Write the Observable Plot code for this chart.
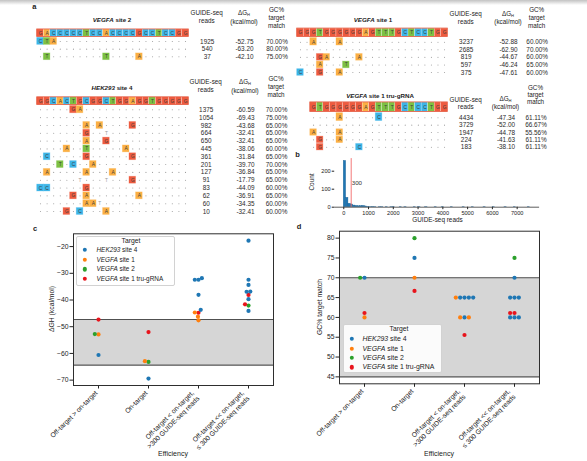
<!DOCTYPE html>
<html>
<head>
<meta charset="utf-8">
<script src="https://cdn.jsdelivr.net/npm/d3@7"></script>
<script src="https://cdn.jsdelivr.net/npm/@observablehq/plot@0.6"></script>
<style>
  html, body { margin: 0; padding: 0; background: #fff; }
  #figure { position: relative; width: 587px; height: 461px; overflow: hidden; background: #fff;
    font-family: "Liberation Sans", Arial, Helvetica, sans-serif; color: #222; }
  #figure svg { position: absolute; left: 0; top: 0; overflow: visible; }
  .txt { position: absolute; white-space: nowrap; line-height: 1; }
  .txt sub { font-size: 0.65em; vertical-align: baseline; position: relative; top: 0.25em; }
  .legend { position: absolute; background: rgba(255,255,255,0.9); border: 0.8px solid #d2d2d2;
    border-radius: 2px; box-sizing: border-box; }
  .swatch { position: absolute; width: 4.4px; height: 4.4px; border-radius: 50%; transform: translate(-50%, -50%); }
  .shade { position: absolute; left: 0; top: 0; width: 587px; height: 5px;
    background: linear-gradient(#c2c2c2, rgba(255,255,255,0)); }
</style>
</head>
<body>
<div id="figure"></div>
<script>
const FONT = '"Liberation Sans", Arial, Helvetica, sans-serif';
const W = 587, H = 461;

// Nucleotide fills for the alignment grids
const NT_LETTERS = ["G", "C", "T", "A"];
const NT_FILLS = ["#ee5b3f", "#3cb5e8", "#7dc143", "#fbb044"];

// Targets in legend order and their dot colours
const TARGET_NAMES = ["HEK293 site 4", "VEGFA site 1", "VEGFA site 2", "VEGFA site 1 tru-gRNA"];
const TARGET_LABELS = ["<i>HEK293</i> site 4", "<i>VEGFA</i> site 1", "<i>VEGFA</i> site 2", "<i>VEGFA</i> site 1 tru-gRNA"];
const TARGET_COLORS = ["#1f77b4", "#ff7f0e", "#2ca02c", "#e8141c"];

// Each GUIDE-seq site is listed by its mismatches: "<position><base>";
// a lowercase base is printed without a coloured box.
const hek4Seq = "GGCACTGCGGCTGGAGGTGGGGG";
const hek4Sites = ["5G 6A", "", "7A 9A 14G", "7G 10t", "7A 10G", "4A 7T 13A", "1C 7G 14G",
  "3T 5C 8A", "1A 7A 11A", "6t 10t 14G", "0C 1C 7G", "5G 7A 15A", "7A 8A 9t", "4G 6C 10A"];
const hek4Reads = [1375, 1054, 982, 664, 650, 445, 361, 201, 127, 91, 83, 62, 60, 10];
const hek4DeltaG = [-60.59, -69.43, -43.68, -32.41, -32.41, -38.06, -31.84, -39.70, -36.84, -17.79, -44.09, -36.91, -34.35, -32.41];
const hek4GC = [70.00, 75.00, 65.00, 65.00, 65.00, 60.00, 65.00, 70.00, 65.00, 65.00, 60.00, 65.00, 60.00, 60.00];

const vegfa1Seq = "GGGTGGGGGGAGTTTGCTCCTGG";
const vegfa1Sites = ["2A 6A", "", "3G 4A 9A", "3A 7T", "0C 3G 6A"];
const vegfa1Reads = [3237, 2685, 819, 597, 375];
const vegfa1DeltaG = [-52.88, -62.90, -44.67, -46.24, -47.61];
const vegfa1GC = [60.00, 70.00, 60.00, 65.00, 60.00];

const vegfa2Seq = "GACCCCCTCCACCCCGCCTCCGG";
const vegfa2Sites = ["0C 1T 2A", "", "1T 10T 15A"];
const vegfa2Reads = [1925, 540, 37];
const vegfa2DeltaG = [-52.75, -63.20, -42.10];
const vegfa2GC = [70.00, 80.00, 75.00];

const truSeq = "GTGGGGGGAGTTTGCTCCTGG";
const truSites = ["4A 10C", "", "0A 4A", "1G 4A", "1G 7C"];
const truReads = [4434, 3729, 1947, 224, 183];
const truDeltaG = [-47.34, -52.00, -44.78, -41.63, -38.10];
const truGC = [61.11, 66.67, 55.56, 61.11, 61.11];

// Histogram of GUIDE-seq read counts (bins of 94 reads starting at 0)
const HIST_BIN = 94;
const HIST_COUNTS = [257, 52, 19, 15, 9, 7, 5, 6, 7, 4, 2, 1, 2, 1, 0, 1, 1, 0, 1, 0, 1, 1, 0, 0, 1, 0, 1, 0, 0, 0,
  1, 0, 1, 0, 0, 1, 0, 0, 0, 1, 0, 0, 1, 0, 0, 0, 1, 0, 0, 0, 0, 1, 0, 0, 0, 1, 0, 0, 0, 0,
  1, 0, 0, 0, 1, 0, 0, 0, 0, 1, 0, 0, 0, 1, 0, 0, 0, 0, 0, 1];
const READ_CUTOFF = 300;

const EFFICIENCY = ["Off-target > on-target", "On-target",
  "Off-target < on-target,\n>300 GUIDE-seq reads", "Off-target << on-target,\n\u2264 300 GUIDE-seq reads"];
const DG_BAND = [-64.4, -47.3];
const GC_BAND = [45, 70];

const targets = [
  {name: "HEK293 site 4", seq: hek4Seq, sites: hek4Sites, reads: hek4Reads, dg: hek4DeltaG, gc: hek4GC},
  {name: "VEGFA site 1", seq: vegfa1Seq, sites: vegfa1Sites, reads: vegfa1Reads, dg: vegfa1DeltaG, gc: vegfa1GC},
  {name: "VEGFA site 2", seq: vegfa2Seq, sites: vegfa2Sites, reads: vegfa2Reads, dg: vegfa2DeltaG, gc: vegfa2GC},
  {name: "VEGFA site 1 tru-gRNA", seq: truSeq, sites: truSites, reads: truReads, dg: truDeltaG, gc: truGC},
];

// Page layout of the four alignment tables
const TABLE_LAYOUT = {
  "VEGFA site 2": {title: "<i>VEGFA</i> site 2", titleXY: [112, 19.5], cellX: [36.7, 188.3],
    seqY: 32.7, rowY: [41, 56.3], cols: [206.7, 244, 276.5],
    head: {reads: [13.3, 21], dg: [13, 21.8], gc: [10, 18, 25.5]}},
  "HEK293 site 4": {title: "<i>HEK293</i> site 4", titleXY: [112, 88.3], cellX: [36.7, 188.3],
    seqY: 100.7, rowY: [109.3, 211], cols: [205.7, 245, 276],
    head: {reads: [82.3, 90], dg: [82, 90.8], gc: [79, 87, 94.5]}},
  "VEGFA site 1": {title: "<i>VEGFA</i> site 1", titleXY: [373, 20], cellX: [296.7, 447.3],
    seqY: 32.3, rowY: [41.7, 72], cols: [465.7, 508, 536.7],
    head: {reads: [14, 21.5], dg: [13.5, 22.3], gc: [10, 18, 25.5]}},
  "VEGFA site 1 tru-gRNA": {title: "<i>VEGFA</i> site 1 tru-gRNA", titleXY: [380, 95.5], cellX: [296.7, 447.3],
    seqY: 106.7, rowY: [117.3, 146.7], cols: [465.7, 505.5, 535.5],
    head: {reads: [99.5, 106.5], dg: [98.8, 107.2], gc: [88, 95, 101.5]}},
};

const fig = document.getElementById("figure");
const shade = document.createElement("div");
shade.className = "shade";
fig.appendChild(shade);

function addText(html, x, y, opts = {}) {
  const {size = 6.5, anchor = "middle", weight = 400, rotate = 0, color = "#222"} = opts;
  const el = document.createElement("div");
  el.className = "txt";
  el.innerHTML = html;
  Object.assign(el.style, {left: x + "px", top: y + "px", fontSize: size + "px", fontWeight: weight, color});
  const tx = anchor === "middle" ? "-50%" : anchor === "end" ? "-100%" : "0%";
  el.style.transform = `translate(${tx}, -50%)` + (rotate ? ` rotate(${rotate}deg)` : "");
  fig.appendChild(el);
  return el;
}

function addPlot(options) {
  const svg = Plot.plot({
    width: W, height: H,
    style: {fontFamily: FONT, fontSize: "6.8px", color: "#222", background: "none", overflow: "visible"},
    ...options
  });
  fig.appendChild(svg);
  return svg;
}

function parseSite(s) {
  return new Map(s ? s.split(" ").map(tok => [+tok.slice(0, -1), tok.slice(-1)]) : []);
}

// ---- a: alignment tables ----
for (const t of targets) {
  const lay = TABLE_LAYOUT[t.name];
  const n = t.sites.length;
  const offset = 23 - t.seq.length;
  const seqCells = Array.from(t.seq, (nt, i) => ({pos: offset + i, row: -1, nt}));
  const boxed = [], plain = [], dots = [];
  t.sites.forEach((s, row) => {
    const mm = parseSite(s);
    for (let i = 0; i < t.seq.length; i++) {
      if (!mm.has(i)) dots.push({pos: offset + i, row});
      else {
        const b = mm.get(i);
        if (b === b.toUpperCase()) boxed.push({pos: offset + i, row, nt: b});
        else plain.push({pos: offset + i, row, nt: b.toUpperCase()});
      }
    }
  });
  const yScale = {type: "linear", domain: [-1, 0, n - 1], range: [lay.seqY, lay.rowY[0], lay.rowY[1]], axis: null};

  addPlot({
    x: {type: "linear", domain: [0, 23], range: lay.cellX, axis: null},
    y: yScale,
    color: {domain: NT_LETTERS, range: NT_FILLS},
    marks: [
      Plot.rect(seqCells, {x1: "pos", x2: d => d.pos + 1, y1: d => d.row - 0.45, y2: d => d.row + 0.45,
        fill: "nt", stroke: "#fff", strokeWidth: 0.25}),
      Plot.rect([{row: -1}], {x1: () => offset, x2: () => 23, y1: d => d.row - 0.45, y2: d => d.row + 0.45,
        fill: "none", stroke: "#e4573d", strokeWidth: 0.8}),
      Plot.text(seqCells, {x: d => d.pos + 0.5, y: "row", text: "nt", fontSize: 4.8, fill: "#3d3d3d"}),
      Plot.rect(boxed, {x1: "pos", x2: d => d.pos + 1, y1: d => d.row - 0.44, y2: d => d.row + 0.44,
        fill: "nt", stroke: "nt", strokeOpacity: 0.35, strokeWidth: 0.8}),
      Plot.text(boxed, {x: d => d.pos + 0.5, y: "row", text: "nt", fontSize: 4.8, fill: "#3d3d3d"}),
      Plot.text(plain, {x: d => d.pos + 0.5, y: "row", text: "nt", fontSize: 4.8, fill: "#9a9a9a"}),
      Plot.dot(dots, {x: d => d.pos + 0.5, y: "row", r: 0.55, fill: "#9c9c9c"}),
    ]
  });

  const numbers = [];
  t.reads.forEach((r, row) => {
    numbers.push({col: 0, row, label: String(r)});
    numbers.push({col: 1, row, label: t.dg[row].toFixed(2)});
    numbers.push({col: 2, row, label: t.gc[row].toFixed(2) + "%"});
  });
  addPlot({
    x: {type: "linear", domain: [0, 1, 2], range: lay.cols, axis: null},
    y: yScale,
    marks: [Plot.text(numbers, {x: "col", y: "row", text: "label", fontSize: 6.4, fill: "#2a2a2a"})]
  });

  addText(lay.title, lay.titleXY[0], lay.titleXY[1], {size: 6.2, weight: 700});
  addText("GUIDE-seq", lay.cols[0], lay.head.reads[0], {size: 6.3});
  addText("reads", lay.cols[0], lay.head.reads[1], {size: 6.3});
  addText("\u0394G<sub>H</sub>", lay.cols[1], lay.head.dg[0], {size: 6.3});
  addText("(kcal/mol)", lay.cols[1], lay.head.dg[1], {size: 6.3});
  addText("GC%", lay.cols[2], lay.head.gc[0], {size: 6.3});
  addText("target", lay.cols[2], lay.head.gc[1], {size: 6.3});
  addText("match", lay.cols[2], lay.head.gc[2], {size: 6.3});
}

// ---- b: histogram of reads ----
const bins = HIST_COUNTS.map((count, i) => ({x0: i * HIST_BIN, x1: (i + 1) * HIST_BIN, count}))
  .filter(d => d.count > 0);
addPlot({
  marginLeft: 334.2, marginRight: W - 539.1, marginTop: 158.1, marginBottom: H - 206.7,
  style: {fontFamily: FONT, fontSize: "5.6px", color: "#222", background: "none", overflow: "visible"},
  x: {domain: [-366, 7906], ticks: d3.range(0, 7001, 1000), tickFormat: "d", tickSize: 2.5, tickPadding: 1.5, label: null},
  y: {domain: [0, 270], ticks: [0, 100, 200], tickSize: 2.5, tickPadding: 1.5, label: null},
  marks: [
    Plot.rectY(bins, {x1: "x0", x2: "x1", y: "count", fill: "#1f77b4", stroke: "#1a5f92", strokeWidth: 0.4}),
    Plot.ruleY([0], {stroke: "#333", strokeWidth: 0.8}),
    Plot.ruleX([READ_CUTOFF], {stroke: "#f26a6a", strokeWidth: 0.9}),
    Plot.text([READ_CUTOFF], {x: d => d, frameAnchor: "middle", text: d => String(d), textAnchor: "start",
      dx: 0.5, fontSize: 6.2, fill: "#333"}),
  ]
});
addText("Count", 311.7, 182.4, {size: 6.4, rotate: -90});
addText("GUIDE-seq reads", 437.5, 220, {size: 6.4});

// ---- c, d: efficiency swarms ----
const points = [];
for (const t of targets) {
  const on = t.sites.findIndex(s => s === "");
  t.reads.forEach((r, i) => {
    let cat;
    if (i === on) cat = EFFICIENCY[1];
    else if (r > t.reads[on]) cat = EFFICIENCY[0];
    else if (r > READ_CUTOFF) cat = EFFICIENCY[2];
    else cat = EFFICIENCY[3];
    points.push({target: t.name, cat, dg: t.dg[i], gc: t.gc[i]});
  });
}

function swarmPanel({frame, field, domain, ticks, band, padding, yLabel, yLabelX, legend}) {
  const [l, t, r, b] = frame;
  const margins = {marginLeft: l, marginTop: t, marginRight: W - r, marginBottom: H - b};
  const oneLine = EFFICIENCY.filter(s => !s.includes("\n"));
  const twoLine = EFFICIENCY.filter(s => s.includes("\n"));
  const labelOpts = (dx) => ({x: d => d, frameAnchor: "bottom", rotate: -45, textAnchor: "end",
    lineAnchor: "top", lineHeight: 1.15, fontSize: 6.8, fill: "#222", dy: 4, dx});
  addPlot({
    ...margins,
    x: {type: "band", domain: EFFICIENCY, padding: 0, tickSize: 3.5, tickFormat: () => "", label: null},
    y: {domain, ticks, tickSize: 3.5, tickPadding: 1.5, label: null},
    marks: [
      Plot.rect([band], {y1: d => d[0], y2: d => d[1], fill: "#d6d6d6"}),
      Plot.ruleY(band, {stroke: "#505050", strokeWidth: 1.2}),
      Plot.frame({stroke: "#2e2e2e", strokeWidth: 1}),
      Plot.text(oneLine, labelOpts(-4.5)),
      Plot.text(twoLine, labelOpts(-8)),
    ]
  });
  const pts = d3.sort(points, d => d[field]);
  addPlot({
    ...margins,
    facet: {data: pts, x: "cat"},
    fx: {domain: EFFICIENCY, padding: 0, axis: null, label: null},
    y: {domain, axis: null},
    color: {domain: TARGET_NAMES, range: TARGET_COLORS},
    marks: [
      Plot.dot(pts, Plot.dodgeX({anchor: "middle", padding}, {y: field, fill: "target", r: 2.1}))
    ]
  });
  addText(yLabel, yLabelX, (t + b) / 2, {size: 6.8, rotate: -90});
  addText("Efficiency", (l + r) / 2, 452.7, {size: 7});

  const box = document.createElement("div");
  box.className = "legend";
  Object.assign(box.style, {left: legend.box[0] + "px", top: legend.box[1] + "px",
    width: legend.box[2] + "px", height: legend.box[3] + "px"});
  fig.appendChild(box);
  addText("Target", legend.titleXY[0], legend.titleXY[1], {size: 6.8});
  TARGET_NAMES.forEach((name, i) => {
    const sw = document.createElement("div");
    sw.className = "swatch";
    Object.assign(sw.style, {left: legend.markerX + "px", top: legend.rowY[i] + "px", background: TARGET_COLORS[i]});
    fig.appendChild(sw);
    addText(TARGET_LABELS[i], legend.textX, legend.rowY[i], {size: legend.size, anchor: "start"});
  });
}

swarmPanel({
  frame: [73, 233.3, 273, 385], field: "dg", domain: [-72.01, -15.21],
  ticks: [-70, -60, -50, -40, -30, -20], band: DG_BAND, padding: -0.5,
  yLabel: "\u0394GH (kcal/mol)", yLabelX: 52,
  legend: {box: [76, 236, 99, 49.5], titleXY: [131, 240.8], markerX: 85, textX: 96.5,
    rowY: [249.8, 259.6, 269.3, 279], size: 6.4}
});
swarmPanel({
  frame: [339, 230.7, 539, 383.3], field: "gc", domain: [43.25, 81.75],
  ticks: [45, 50, 55, 60, 65, 70, 75, 80], band: GC_BAND, padding: 0.15,
  yLabel: "GC% target match", yLabelX: 320,
  legend: {box: [343.3, 324, 98.4, 48.7], titleXY: [399, 329.3], markerX: 351.7, textX: 362.5,
    rowY: [339, 348.5, 357.9, 367.3], size: 6.9}
});

// panel letters
addText("a", 34.3, 6.5, {size: 7.5, weight: 700});
addText("b", 297.5, 155, {size: 7.5, weight: 700});
addText("c", 35, 229, {size: 7.5, weight: 700});
addText("d", 299, 227, {size: 7.5, weight: 700});
</script>
</body>
</html>
